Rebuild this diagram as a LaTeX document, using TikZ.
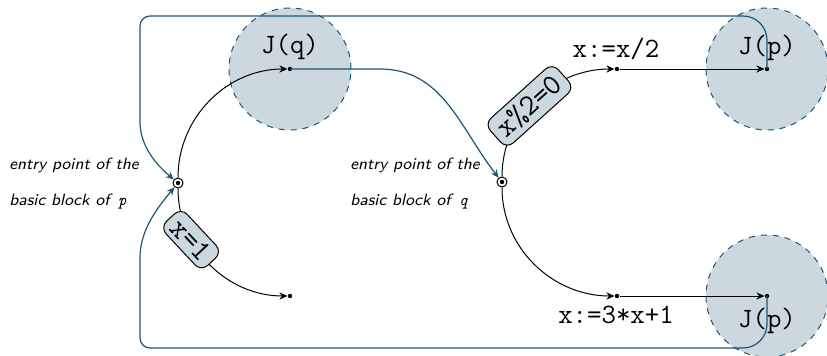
\documentclass[tikz,border=0pt]{standalone}
\usetikzlibrary{arrows.meta}
\definecolor{lineblue}{HTML}{1F5473}
\definecolor{regionfill}{HTML}{CCD8E0}
\begin{document}
\begin{tikzpicture}[x=0.5pt,y=-0.5pt,
  region/.style={circle, draw=lineblue, dashed, line width=0.5pt, fill=regionfill, minimum size=61pt, inner sep=0pt},
  dot/.style={circle, fill=black, minimum size=2.2pt, inner sep=0pt},
  entry/.style={circle, draw=black, line width=0.5pt, fill=white, minimum size=5pt, inner sep=0pt,
    path picture={\fill[black] (path picture bounding box.center) circle (1.1pt);}},
  flow/.style={draw=black, line width=0.5pt, -{Stealth[length=4pt,width=3.6pt]}},
  loop/.style={draw=lineblue, line width=0.6pt, -{Stealth[length=4pt,width=3.6pt]}},
  cond/.style={draw=black, line width=0.5pt, fill=regionfill, rounded corners=4.5pt, inner xsep=3.5pt, inner ysep=2.5pt,
    font=\fontsize{15}{17}\selectfont\ttfamily},
  code/.style={font=\fontsize{14}{16}\selectfont\ttfamily, anchor=base, inner sep=0pt},
  note/.style={font=\fontsize{8.2}{10}\selectfont\sffamily\itshape, anchor=base west, inner sep=0pt}
]
\useasboundingbox (0,0) rectangle (827,355);

% regions
\node[region] (Rq) at (290,69) {};
\node[region] (Rp1) at (767,69) {};
\node[region] (Rp2) at (767,296) {};

% labels
\node[code] (Lq) at (290,53) {J(q)};
\node[code] (Lp1) at (767,54) {J(p)};
\node[code] (Lp2) at (767,327) {J(p)};
\node[code] (Lx2) at (616,57) {x:=x/2};
\node[code] (Lx3) at (616,323) {x:=3*x+1};

% entry notes
\node[note] (np1) at (9,169) {entry point of the};
\node[note] (np2) at (9,205) {basic block of \,{\ttfamily\itshape p}};
\node[note] (nq1) at (350,169) {entry point of the};
\node[note] (nq2) at (350,205) {basic block of \,{\ttfamily\itshape q}};

% nodes
\node[entry] (ep) at (178,183) {};
\node[entry] (eq) at (502,182) {};
\node[dot] (dq) at (290,69) {};
\node[dot] (dz) at (290,296) {};
\node[dot] (dx2) at (617,69) {};
\node[dot] (dx3) at (617,296) {};
\node[dot] (dp1) at (767,69) {};
\node[dot] (dp2) at (767,296) {};

\coordinate (tr) at (767,16);
\coordinate (tl) at (140,16);
\coordinate (tld) at (140,112);
\coordinate (br) at (767,348);
\coordinate (bl) at (140,348);
\coordinate (blu) at (140,268);

% black flow
\draw[flow] (ep) to[out=-90,in=180] node[cond, pos=0.31, rotate=-47] {x=1} (dz);
\draw[flow] (ep) to[out=90,in=180] (dq);
\draw[flow] (eq) to[out=90,in=180] node[cond, pos=0.45, rotate=42] {x\%2=0} (dx2);
\draw[flow] (eq) to[out=-90,in=180] (dx3);
\draw[flow] (dx2) -- (dp1);
\draw[flow] (dx3) -- (dp2);

% blue connectors
\draw[loop] (dq.center) -- (380,69) to[out=0,in=128] (eq);
\draw[loop] (dp1.center) [rounded corners=12pt] -- (tr) [rounded corners=5pt] -- (tl) -- (tld) [sharp corners] to[out=-90,in=140] (ep);
\draw[loop] (dp2.center) [rounded corners=12pt] -- (br) [rounded corners=5pt] -- (bl) -- (blu) [sharp corners] to[out=90,in=-130] (ep);
\end{tikzpicture}
\end{document}
